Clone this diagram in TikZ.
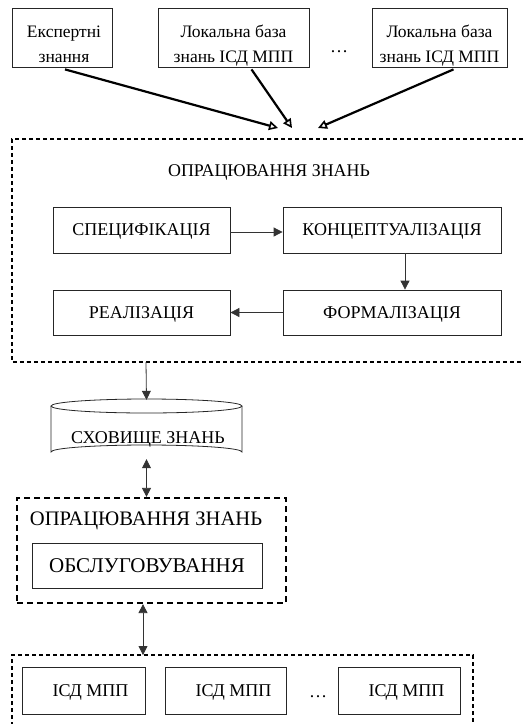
\documentclass[tikz,border=0pt]{standalone}
\usepackage{fontspec}
\setmainfont{Liberation Serif}
\usetikzlibrary{arrows.meta,calc}
\tikzset{
  bx/.style={draw=black!85, line width=0.8pt, inner sep=0pt, align=center,
    text depth=0pt, font=\fontsize{18}{24}\selectfont},
  thin arr/.style={draw=black!80, line width=0.8pt, -{Triangle[length=9pt,width=9pt]}},
  dbl arr/.style={draw=black!80, line width=0.8pt, {Triangle[length=9pt,width=9pt]}-{Triangle[length=9pt,width=9pt]}},
  thick arr/.style={line width=2.2pt, -{Triangle[open,length=9pt,width=9pt,line width=1.6pt]}},
  dashbox/.style={line width=1.6pt, dash pattern=on 4pt off 3pt},
  dashbox2/.style={line width=2.2pt, dash pattern=on 6pt off 4pt},
  txt/.style={inner sep=0pt, text depth=0pt, font=\fontsize{18}{24}\selectfont},
  ln/.style={inner sep=0pt, anchor=base, font=\fontsize{17.5}{24}\selectfont},
}
\begin{document}
\begin{tikzpicture}[x=1pt,y=-1pt]
\useasboundingbox (0,0) rectangle (523,724);

% top boxes
\node[bx, minimum width=100pt, minimum height=59pt] (e1) at (62,37.5) {};
\node[bx, minimum width=151pt, minimum height=59pt] (e2) at (233.5,37.5) {};
\node[bx, minimum width=135pt, minimum height=59pt] (e3) at (439.5,37.5) {};
\node[ln] (e1a) at (64,37) {Експертні};
\node[ln] (e1b) at (64,62) {знання};
\node[ln] (e2a) at (233.5,37) {Локальна база};
\node[ln] (e2b) at (233.5,62) {знань ІСД МПП};
\node[ln] (e3a) at (439.5,37) {Локальна база};
\node[ln] (e3b) at (439.5,62) {знань ІСД МПП};
\node[txt] (d1) at (339,52) {\dots};

\coordinate (t1) at (278,128);
\coordinate (t2) at (292,128);
\coordinate (t3) at (318,128);
\draw[thick arr] ([xshift=3pt,yshift=-2pt]e1.south) -- (t1);
\draw[thick arr] ([xshift=18pt,yshift=-2pt]e2.south) -- (t2);
\draw[thick arr] ([xshift=14pt,yshift=-2pt]e3.south) -- (t3);

% big dashed region
\draw[dashbox] (523,139) -- (12,139) -- (12,362) -- (523,362);
\node[txt, font=\fontsize{17.9}{24}\selectfont] (ttl1) at (269,171) {ОПРАЦЮВАННЯ ЗНАНЬ};

\node[bx, minimum width=177pt, minimum height=46pt] (spec) at (141.5,230) {СПЕЦИФІКАЦІЯ};
\node[bx, minimum width=218pt, minimum height=46pt] (konc) at (392,230) {КОНЦЕПТУАЛІЗАЦІЯ};
\node[bx, minimum width=177pt, minimum height=45pt] (real) at (141.5,312.5) {РЕАЛІЗАЦІЯ};
\node[bx, minimum width=218pt, minimum height=45pt] (form) at (392,312.5) {ФОРМАЛІЗАЦІЯ};

\draw[thin arr] ([yshift=-2pt]spec.east) -- ([yshift=-2pt]konc.west);
\draw[thin arr] ([xshift=13pt]konc.south) -- ([xshift=13pt]form.north);
\draw[thin arr] (form.west) -- (real.east);

% storage cylinder
\coordinate (pb) at (146,362);
\node[inner sep=0pt, minimum width=191pt, minimum height=60pt] (cyl) at (146.5,429) {};
\draw[line width=0.8pt, draw=black!85] (51,406) -- (51,452) arc (180:0:95.5pt and 7pt) -- (242,406);
\draw[line width=0.8pt, draw=black!85] (146.5,406) ellipse (95.5pt and 7pt);
\node[txt] (cyltxt) at (148,438) {СХОВИЩЕ ЗНАНЬ};
\draw[thin arr] (pb) -- ([yshift=-1pt]cyl.north);

% maintenance box
\node[draw, dashbox2, minimum width=269pt, minimum height=105pt, inner sep=0pt] (o2) at (151.5,550.5) {};
\node[txt, font=\fontsize{20.6}{24}\selectfont] (ttl2) at (146,519) {ОПРАЦЮВАННЯ ЗНАНЬ};
\node[bx, minimum width=230pt, minimum height=45pt, font=\fontsize{21}{24}\selectfont] (obs) at (147,565.5) {ОБСЛУГОВУВАННЯ};
\draw[dbl arr] (cyl.south) -- (cyl.south |- o2.north);

% bottom region
\draw[dashbox] (12,740) -- (12,655) -- (473,655) -- (473,740);
\coordinate (b3) at (143,655);
\draw[dbl arr] (o2.south -| b3) -- (b3);

\node[bx, minimum width=123pt, minimum height=47pt] (i1) at (83.5,690.5) {\hspace*{14pt}ІСД МПП};
\node[bx, minimum width=121pt, minimum height=47pt] (i2) at (225.5,690.5) {\hspace*{16pt}ІСД МПП};
\node[bx, minimum width=122pt, minimum height=47pt] (i3) at (399,690.5) {\hspace*{15pt}ІСД МПП};
\node[txt] (d2) at (318,697) {\dots};
\end{tikzpicture}
\end{document}
